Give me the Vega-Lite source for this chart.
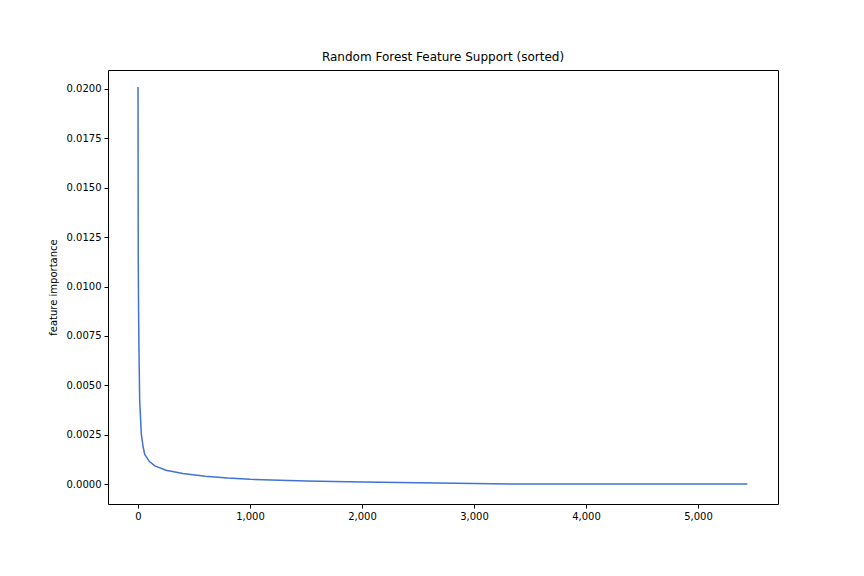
{
  "$schema": "https://vega.github.io/schema/vega-lite/v6.json",
  "autosize": {"type": "none"},
  "padding": {"left": 108, "top": 70, "right": 86, "bottom": 72},
  "width": 670,
  "height": 434,
  "title": {"text": "Random Forest Feature Support (sorted)", "font": "DejaVu Sans", "fontSize": 12, "fontWeight": "normal", "offset": 6},
  "config": {
    "view": {"stroke": "black", "strokeWidth": 1},
    "axis": {"grid": false, "domain": false, "tickColor": "black", "tickSize": 4, "labelFont": "DejaVu Sans", "labelFontSize": 10, "labelColor": "black", "titleFont": "DejaVu Sans", "titleFontSize": 10, "titleFontWeight": "normal", "labelPadding": 3}
  },
  "data": {"values": [
    {"i": 0, "v": 0.0201},
    {"i": 2, "v": 0.0115},
    {"i": 4, "v": 0.0095},
    {"i": 8, "v": 0.007},
    {"i": 15, "v": 0.0042},
    {"i": 30, "v": 0.0025},
    {"i": 45, "v": 0.0019},
    {"i": 60, "v": 0.0015},
    {"i": 100, "v": 0.00115},
    {"i": 150, "v": 0.00092},
    {"i": 250, "v": 0.0007},
    {"i": 400, "v": 0.00053},
    {"i": 600, "v": 0.0004},
    {"i": 800, "v": 0.0003},
    {"i": 1000, "v": 0.00024},
    {"i": 1500, "v": 0.00016},
    {"i": 2000, "v": 0.0001},
    {"i": 2500, "v": 0.00006},
    {"i": 3000, "v": 0.00003},
    {"i": 3400, "v": 0.0},
    {"i": 5440, "v": 0.0}
  ]},
  "mark": {"type": "line", "color": "#4272d7", "strokeWidth": 1.5, "clip": true},
  "encoding": {
    "x": {"field": "i", "type": "quantitative", "title": null, "scale": {"domain": [-268, 5714], "nice": false, "zero": false}, "axis": {"values": [0, 1000, 2000, 3000, 4000, 5000]}},
    "y": {"field": "v", "type": "quantitative", "title": "feature importance", "scale": {"domain": [-0.00101, 0.02096], "nice": false, "zero": false}, "axis": {"values": [0, 0.0025, 0.005, 0.0075, 0.01, 0.0125, 0.015, 0.0175, 0.02], "format": ".4f", "titlePadding": 8}}
  }
}
